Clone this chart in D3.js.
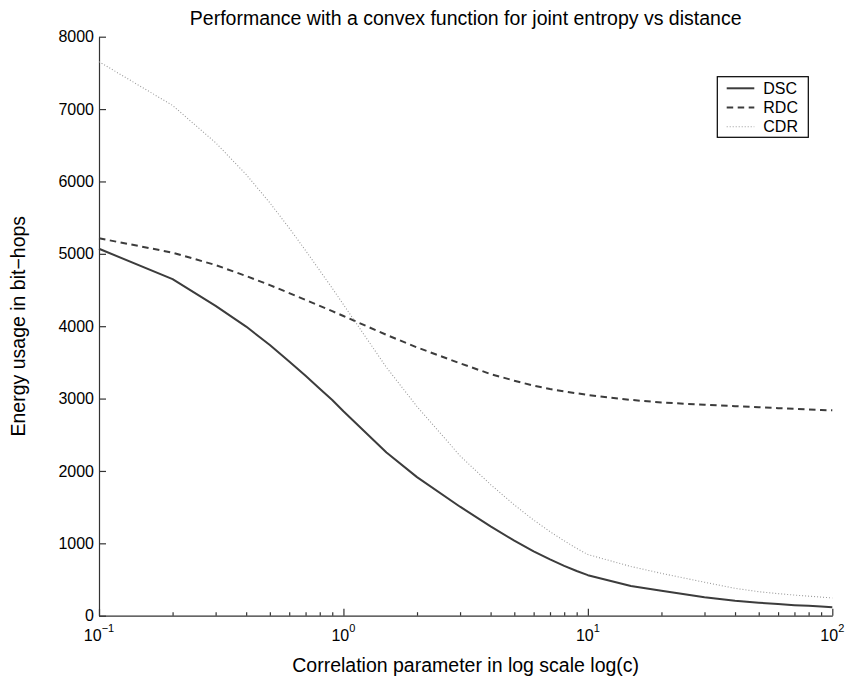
<!DOCTYPE html>
<html>
  <head>
    <meta charset="UTF-8" />
    <script src="https://d3js.org/d3.v7.min.js"></script>
    <style>
      body { margin: 0; background: #fff; }
      text { font-family: "Liberation Sans", Arial, Helvetica, sans-serif; fill: #000; }
    </style>
  </head>
  <body>
    <div id="chart"></div>
    <script>
      // valeurs (c = 0.1 ... 100)
      const cValues = [0.1, 0.2, 0.3, 0.4, 0.5, 0.6, 0.7, 0.8, 0.9,
                       1, 1.5, 2, 3, 4, 5, 6, 7, 8, 9,
                       10, 15, 20, 30, 40, 50, 60, 70, 80, 90, 100];
      const dsc = [5070, 4650, 4280, 3995, 3740, 3512, 3314, 3137, 2980,
                   2825, 2255, 1915, 1506, 1235, 1037, 890, 778, 689, 618,
                   560, 410, 345, 254, 207, 180, 160, 146, 136, 127, 118];
      const rdc = [5215, 5016, 4845, 4693, 4568, 4458, 4363, 4280, 4208,
                   4141, 3880, 3707, 3487, 3339, 3247, 3178, 3132, 3100, 3073,
                   3050, 2982, 2945, 2915, 2895, 2880, 2868, 2858, 2850, 2843, 2837];
      const cdr = [7655, 7050, 6535, 6096, 5705, 5356, 5046, 4769, 4525,
                   4299, 3430, 2890, 2209, 1812, 1531, 1321, 1161, 1035, 930,
                   845, 680, 585, 462, 378, 332, 305, 285, 270, 257, 245];
      const seriesNames = ["DSC", "RDC", "CDR"];
      const yTicks = [0, 1000, 2000, 3000, 4000, 5000, 6000, 7000, 8000];
      const xMajor = [0.1, 1, 10, 100];
      const xMajorExp = ["−1", "0", "1", "2"];
      const xMinor = [0.2, 0.3, 0.4, 0.5, 0.6, 0.7, 0.8, 0.9,
                      2, 3, 4, 5, 6, 7, 8, 9,
                      20, 30, 40, 50, 60, 70, 80, 90];

      const margin = { top: 36.7, right: 12.7, bottom: 66.3, left: 99 },
        W = 845, H = 682,
        width = W - margin.left - margin.right,
        height = H - margin.top - margin.bottom;

      const svg = d3.select("#chart").append("svg")
        .attr("width", W).attr("height", H);
      const g = svg.append("g")
        .attr("transform", "translate(" + margin.left + "," + margin.top + ")");

      const x = d3.scaleLog().domain([0.1, 100]).range([0, width]);
      const y = d3.scaleLinear().domain([0, 8000]).range([height, 0]);

      const axisColor = "#333";

      // axe y
      const yAxis = g.append("g")
        .call(d3.axisLeft(y).tickValues(yTicks).tickSize(-7).tickSizeOuter(0)
          .tickPadding(5).tickFormat(d3.format("d")));
      yAxis.selectAll("text").style("font-size", "16px");

      // axe x : graduations majeures et mineures, vers l'intérieur
      g.append("g").attr("transform", "translate(0," + height + ")")
        .call(d3.axisBottom(x).tickValues(xMajor).tickSize(-7).tickSizeOuter(0).tickFormat(""));
      g.append("g").attr("transform", "translate(0," + height + ")")
        .call(d3.axisBottom(x).tickValues(xMinor).tickSize(-3.5).tickSizeOuter(0).tickFormat(""))
        .select(".domain").remove();

      g.selectAll(".domain, .tick line").attr("stroke", axisColor).attr("stroke-width", 1.2);

      // étiquettes 10^n
      const xLab = g.append("g").selectAll("text")
        .data(xMajor)
        .join("text")
        .attr("x", (d) => x(d))
        .attr("y", height + 25)
        .attr("text-anchor", "middle")
        .style("font-size", "16px");
      xLab.append("tspan").text("10");
      xLab.append("tspan")
        .attr("dy", -9)
        .style("font-size", "11px")
        .text((d, i) => xMajorExp[i]);

      // courbes (segments droits entre les points, comme dans la figure)
      const line = (vals) => d3.line()
        .x((d, i) => x(cValues[i]))
        .y((d) => y(d))(vals);

      const styles = [
        { stroke: "#3c3c3c", width: 2, dash: null },
        { stroke: "#3c3c3c", width: 2, dash: "6.5,4.5" },
        { stroke: "#9a9a9a", width: 1.1, dash: "1,2" }
      ];
      [dsc, rdc, cdr].forEach((vals, i) => {
        g.append("path")
          .attr("d", line(vals))
          .attr("fill", "none")
          .attr("stroke", styles[i].stroke)
          .attr("stroke-width", styles[i].width)
          .attr("stroke-linejoin", "round")
          .attr("stroke-dasharray", styles[i].dash);
      });

      // titre et libellés d'axes
      svg.append("text")
        .attr("x", margin.left + width / 2).attr("y", 25)
        .attr("text-anchor", "middle")
        .style("font-size", "19.5px")
        .text("Performance with a convex function for joint entropy vs distance");

      svg.append("text")
        .attr("x", margin.left + width / 2).attr("y", 672)
        .attr("text-anchor", "middle")
        .style("font-size", "19.5px")
        .text("Correlation parameter in log scale log(c)");

      svg.append("text")
        .attr("transform", "translate(25," + (margin.top + height / 2) + ") rotate(-90)")
        .attr("text-anchor", "middle")
        .style("font-size", "19.5px")
        .text("Energy usage in bit−hops");

      // légende
      const legend = svg.append("g").attr("transform", "translate(717.3,76.7)");
      legend.append("rect")
        .attr("width", 91).attr("height", 60.6)
        .attr("fill", "#fff").attr("stroke", "#000").attr("stroke-width", 1.2);
      seriesNames.forEach((name, i) => {
        const cy = 11.6 + i * 19.2;
        legend.append("line")
          .attr("x1", 9.4).attr("x2", 37)
          .attr("y1", cy).attr("y2", cy)
          .attr("stroke", styles[i].stroke)
          .attr("stroke-width", styles[i].width)
          .attr("stroke-dasharray", styles[i].dash);
        legend.append("text")
          .attr("x", 46).attr("y", cy + 5.6)
          .style("font-size", "16px")
          .text(name);
      });
    </script>
  </body>
</html>
